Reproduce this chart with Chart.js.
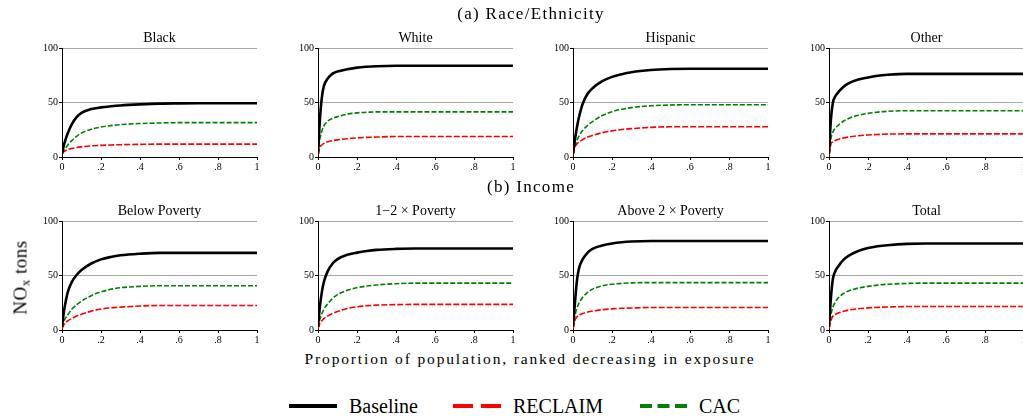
<!DOCTYPE html>
<html>
<head>
<meta charset="utf-8">
<script src="https://cdn.jsdelivr.net/npm/chart.js@4.4.0/dist/chart.umd.min.js"></script>
<style>
  body { margin: 0; width: 1023px; height: 420px; overflow: hidden; background: #fff; position: relative;
         font-family: 'Liberation Serif', serif; font-weight: normal; color: #000; }
  canvas { position: absolute; }
  .ttl { position: absolute; width: 195px; text-align: center; font-size: 14px; line-height: 14px; white-space: nowrap; }
  .sec { position: absolute; width: 400px; text-align: center; font-size: 17px; line-height: 17px; letter-spacing: 1.3px; white-space: nowrap; }
  .lg { position: absolute; font-size: 20px; line-height: 20px; white-space: nowrap; }
  svg { position: absolute; }
</style>
</head>
<body>
<script>
// shared x positions (proportion of population)
const xs = [0, 0.01, 0.02, 0.03, 0.05, 0.075, 0.1, 0.15, 0.2, 0.25, 0.3, 0.4, 0.5, 0.6, 0.7, 0.8, 0.9, 1];
const xTickLabels = ['0', '.2', '.4', '.6', '.8', '1'];
const yTickLabels = ['0', '50', '100'];

// (a) Race/Ethnicity
const blackBaseline = [3, 11, 17, 22, 30, 36.5, 40.5, 44, 45.5, 46.5, 47.3, 48.3, 49, 49.2, 49.3, 49.3, 49.3, 49.3];
const blackReclaim  = [3, 5, 6, 6.8, 7.8, 8.7, 9.3, 10.2, 10.7, 11, 11.3, 11.6, 11.8, 11.8, 11.8, 11.8, 11.8, 11.8];
const blackCac      = [3, 6, 8.5, 11, 15, 19, 22, 25.5, 27.5, 28.8, 29.7, 30.7, 31.2, 31.5, 31.5, 31.5, 31.5, 31.5];

const whiteBaseline = [3, 35, 55, 65, 72, 76.5, 78.5, 80.5, 82, 82.8, 83.3, 83.7, 83.7, 83.7, 83.7, 83.7, 83.7, 83.7];
const whiteReclaim  = [2, 9, 11, 12.5, 14, 15, 15.7, 16.8, 17.5, 18, 18.3, 18.8, 18.8, 18.8, 18.8, 18.8, 18.8, 18.8];
const whiteCac      = [3, 17, 24, 28.5, 33, 35.5, 37, 39.3, 40.5, 41, 41.4, 41.4, 41.4, 41.4, 41.4, 41.4, 41.4, 41.4];

const hispBaseline  = [3, 16, 27, 36, 49, 58, 63, 69.5, 73.5, 76, 77.8, 79.8, 80.7, 81, 81, 81, 81, 81];
const hispReclaim   = [2, 9, 12, 13.5, 16, 18.3, 19.8, 22.3, 24, 25.2, 26, 27.2, 27.7, 27.7, 27.7, 27.7, 27.7, 27.7];
const hispCac       = [3, 10, 15, 19, 24.5, 29, 32.5, 38, 41.5, 43.8, 45.3, 47, 47.7, 48, 48, 48, 48, 48];

const otherBaseline = [3, 35, 50, 55, 60, 64.5, 67.5, 71, 73, 74.5, 75.4, 76.3, 76.3, 76.3, 76.3, 76.3, 76.3, 76.3];
const otherReclaim  = [2, 12, 14, 15, 16.3, 17.5, 18.3, 19.5, 20.2, 20.7, 21, 21.2, 21.2, 21.2, 21.2, 21.2, 21.2, 21.2];
const otherCac      = [3, 17, 23, 26, 29.5, 33, 35.3, 38.3, 40, 41.2, 41.9, 42.5, 42.5, 42.5, 42.5, 42.5, 42.5, 42.5];

// (b) Income
const belowBaseline = [3, 17, 27, 35, 44, 50.5, 55, 61, 64.8, 67, 68.5, 70, 70.8, 70.8, 70.8, 70.8, 70.8, 70.8];
const belowReclaim  = [1, 5, 7, 8.5, 10.5, 12.8, 14.5, 17.3, 19.2, 20.3, 21, 22, 22.5, 22.5, 22.5, 22.5, 22.5, 22.5];
const belowCac      = [2, 8, 11.5, 14, 19, 23, 26.5, 31.5, 35, 37.3, 38.8, 40, 40.6, 40.6, 40.6, 40.6, 40.6, 40.6];

const midBaseline   = [3, 22, 35, 44, 54, 61, 65, 69, 71, 72.5, 73.5, 74.4, 74.8, 74.8, 74.8, 74.8, 74.8, 74.8];
const midReclaim    = [1, 6, 8.5, 10.5, 13, 15.3, 17, 19.8, 21.3, 22.2, 22.8, 23.3, 23.5, 23.5, 23.5, 23.5, 23.5, 23.5];
const midCac        = [2, 10, 15, 19, 24, 29, 32.5, 36.5, 38.8, 40.3, 41.3, 42.5, 43, 43, 43, 43, 43, 43];

const aboveBaseline = [3, 25, 45, 56, 65, 71, 74.5, 77.5, 79.3, 80.5, 81.2, 81.6, 81.6, 81.6, 81.6, 81.6, 81.6, 81.6];
const aboveReclaim  = [1, 9, 12, 13.5, 15.2, 16.5, 17.4, 18.6, 19.4, 19.9, 20.2, 20.6, 20.6, 20.6, 20.6, 20.6, 20.6, 20.6];
const aboveCac      = [2, 13, 20, 24.5, 30, 34.5, 37.5, 40.5, 42, 42.8, 43.2, 43.5, 43.5, 43.5, 43.5, 43.5, 43.5, 43.5];

const totalBaseline = [3, 30, 47, 53, 59, 64.5, 68, 72.5, 75.2, 76.8, 77.8, 79, 79.4, 79.4, 79.4, 79.4, 79.4, 79.4];
const totalReclaim  = [1, 9, 12.5, 14, 15.8, 17.2, 18.3, 19.5, 20.3, 20.8, 21.1, 21.5, 21.5, 21.5, 21.5, 21.5, 21.5, 21.5];
const totalCac      = [2, 14, 21, 25, 30, 33.5, 35.8, 38.5, 40, 41.2, 42, 42.7, 43, 43, 43, 43, 43, 43];

const panels = [
    { title: 'Black', base: blackBaseline, reclaim: blackReclaim, cac: blackCac, left: 62, top: 48 },
    { title: 'White', base: whiteBaseline, reclaim: whiteReclaim, cac: whiteCac, left: 318, top: 48 },
    { title: 'Hispanic', base: hispBaseline, reclaim: hispReclaim, cac: hispCac, left: 573, top: 48 },
    { title: 'Other', base: otherBaseline, reclaim: otherReclaim, cac: otherCac, left: 829, top: 48 },
    { title: 'Below Poverty', base: belowBaseline, reclaim: belowReclaim, cac: belowCac, left: 62, top: 221 },
    { title: '1\u22122 \u00d7 Poverty', base: midBaseline, reclaim: midReclaim, cac: midCac, left: 318, top: 221 },
    { title: 'Above 2 \u00d7 Poverty', base: aboveBaseline, reclaim: aboveReclaim, cac: aboveCac, left: 573, top: 221 },
    { title: 'Total', base: totalBaseline, reclaim: totalReclaim, cac: totalCac, left: 829, top: 221 },
];

const SERIF = "'Liberation Serif', serif";
const toPoints = arr => xs.map((x, i) => ({ x: x, y: arr[i] }));

function addDiv(cls, text, left, top, html) {
    const d = document.createElement('div');
    d.className = cls;
    if (html) d.innerHTML = text; else d.textContent = text;
    d.style.left = left + 'px';
    d.style.top = top + 'px';
    document.body.appendChild(d);
    return d;
}

function makePanel(p) {
    const cv = document.createElement('canvas');
    cv.width = 235;
    cv.height = 133;
    cv.style.left = (p.left - 32) + 'px';
    cv.style.top = (p.top - 8) + 'px';
    document.body.appendChild(cv);

    addDiv('ttl', p.title, p.left, p.top - 17);

    new Chart(cv, {
        type: 'line',
        data: {
            datasets: [
                { label: 'Baseline', data: toPoints(p.base), borderColor: '#000', borderWidth: 2.6 },
                { label: 'RECLAIM', data: toPoints(p.reclaim), borderColor: '#ff0000', borderWidth: 1.6, borderDash: [6, 2] },
                { label: 'CAC', data: toPoints(p.cac), borderColor: '#008000', borderWidth: 1.6, borderDash: [5, 2] },
            ],
        },
        options: {
            responsive: false,
            animation: false,
            devicePixelRatio: 1,
            layout: { padding: { top: 8, right: 8, left: 0, bottom: 0 } },
            elements: {
                point: { radius: 0 },
                line: { cubicInterpolationMode: 'monotone' },
            },
            plugins: { legend: { display: false }, tooltip: { enabled: false } },
            scales: {
                x: {
                    type: 'linear', min: 0, max: 1,
                    afterFit: s => { s.height = 16; },
                    ticks: {
                        stepSize: 0.2, autoSkip: false, maxRotation: 0, padding: 1, color: '#000',
                        font: { family: SERIF, size: 10 },
                        callback: (v, i) => xTickLabels[i],
                    },
                    grid: { drawOnChartArea: false, tickLength: 3, tickColor: '#000' },
                    border: { color: '#000', width: 1 },
                },
                y: {
                    min: 0, max: 100,
                    afterFit: s => { s.width = 32; },
                    ticks: {
                        stepSize: 50, padding: 1, color: '#000',
                        font: { family: SERIF, size: 10 },
                        callback: (v, i) => yTickLabels[i],
                    },
                    grid: {
                        color: c => (c.tick && c.tick.value === 0) ? 'rgba(0,0,0,0)' : '#a8a8a8',
                        lineWidth: 1, tickLength: 3, tickColor: '#000',
                    },
                    border: { color: '#000', width: 1 },
                },
            },
        },
    });
}

panels.forEach(makePanel);

// section headings and axis labels
addDiv('sec', '(a) Race/Ethnicity', 331, 5);
addDiv('sec', '(b) Income', 331, 178);
const xl = addDiv('sec', 'Proportion of population, ranked decreasing in exposure', 230, 350);
xl.style.width = '600px';
xl.style.fontSize = '15.5px';
xl.style.letterSpacing = '1.85px';

const yl = addDiv('sec', 'NO<sub style="font-size:13px;vertical-align:-3px;line-height:0">x</sub> tons', 0, 0, true);
yl.style.width = '120px';
yl.style.fontSize = '19px';
yl.style.letterSpacing = '0.5px';
yl.style.left = (20 - 60) + 'px';
yl.style.top = (278 - 9) + 'px';
yl.style.transform = 'rotate(-90deg)';

// legend
const legendItems = [
    { label: 'Baseline', color: '#000', dash: '', lineLeft: 289, lineW: 48, textLeft: 349 },
    { label: 'RECLAIM', color: '#ff0000', dash: '20 8', lineLeft: 453, lineW: 48, textLeft: 513 },
    { label: 'CAC', color: '#008000', dash: '12 5.5', lineLeft: 640, lineW: 47, textLeft: 699 },
];
legendItems.forEach(it => {
    const ns = 'http://www.w3.org/2000/svg';
    const svg = document.createElementNS(ns, 'svg');
    svg.setAttribute('width', it.lineW);
    svg.setAttribute('height', 8);
    svg.style.left = it.lineLeft + 'px';
    svg.style.top = '402px';
    const ln = document.createElementNS(ns, 'line');
    ln.setAttribute('x1', 0); ln.setAttribute('x2', it.lineW);
    ln.setAttribute('y1', 4); ln.setAttribute('y2', 4);
    ln.setAttribute('stroke', it.color);
    ln.setAttribute('stroke-width', 4);
    if (it.dash) ln.setAttribute('stroke-dasharray', it.dash);
    svg.appendChild(ln);
    document.body.appendChild(svg);
    addDiv('lg', it.label, it.textLeft, 396);
});
</script>
</body>
</html>
